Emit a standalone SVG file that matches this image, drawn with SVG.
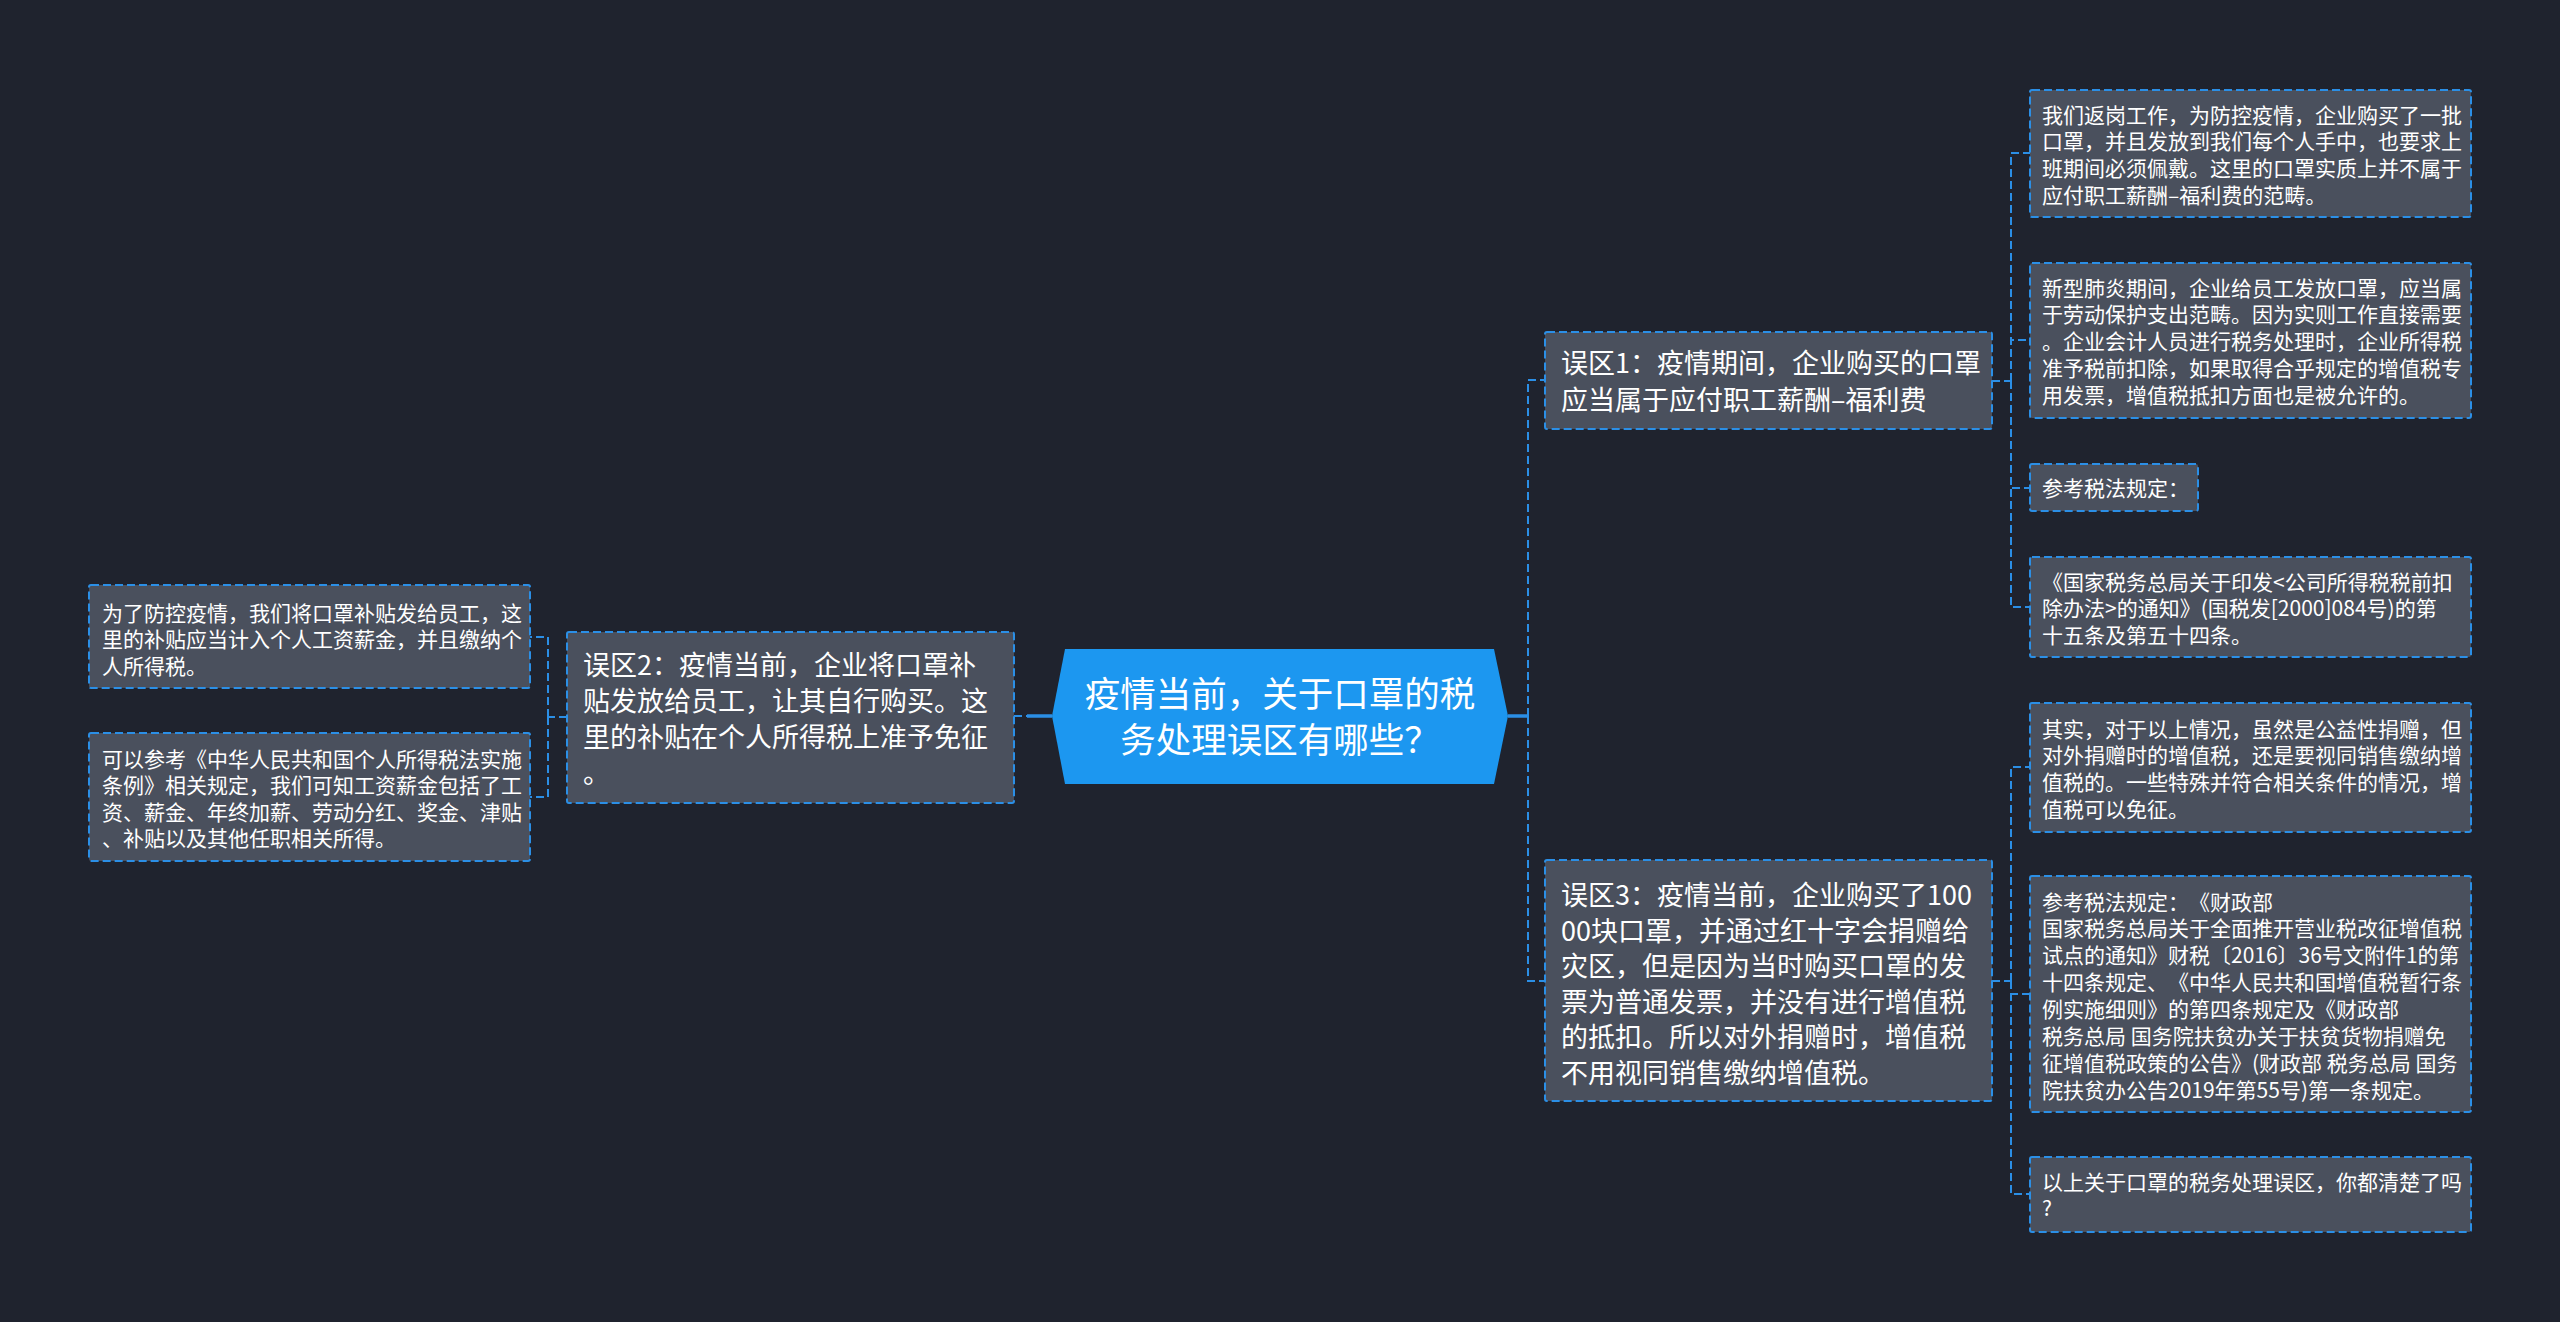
<svg xmlns="http://www.w3.org/2000/svg" width="2560" height="1322" viewBox="0 0 2560 1322">
<style>
.bg{fill:#1f232e}
.box{fill:#4a505d;stroke:#2b8fe6;stroke-width:2;stroke-dasharray:8 4}
.con{fill:none;stroke:#2b8fe6;stroke-width:2;stroke-dasharray:8 4}
.solid{fill:none;stroke:#2b8fe6;stroke-width:3.5}
text{font-family:"Noto Sans CJK SC","Noto Sans",sans-serif;fill:#ffffff;text-spacing-trim:space-all}
.t0{font-size:35.5px}
.t1{font-size:27px}
.t2{font-size:21px}
</style>
<rect class="bg" x="0" y="0" width="2560" height="1322"/>

<g id="connectors">
  <path class="solid" d="M1508 716 H1528"/>
  <path class="solid" d="M1027 716 H1052"/>
  <path class="con" d="M1528 716 V380 H1545 M1528 716 V981 H1545"/>
  <path class="con" d="M1014 716 H1027"/>
  <path class="con" d="M567 717 H548 M548 717 V637 H530 M548 717 V797 H530"/>
  <path class="con" d="M1992 381 H2011 M2011 381 V153 H2030 M2011 381 V340 H2030 M2011 381 V488 H2030 M2011 381 V607 H2030"/>
  <path class="con" d="M1992 981 H2011 M2011 981 V767 H2030 M2011 981 V994 H2030 M2011 981 V1194 H2030"/>
</g>

<g id="root">
  <polygon points="1065,649 1494,649 1508,716 1494,784 1065,784 1052,716" fill="#1c97f0"/>
  <text class="t0" x="1280" y="707" text-anchor="middle">疫情当前，关于口罩的税</text>
  <text class="t0" x="1280" y="753" text-anchor="middle">务处理误区有哪些？</text>
</g>

<g id="n1">
  <rect class="box" x="1545" y="332" width="447" height="97" rx="2"/>
  <text class="t1" x="1561" y="373">误区1：疫情期间，企业购买的口罩</text>
  <text class="t1" x="1561" y="410">应当属于应付职工薪酬–福利费</text>
</g>

<g id="n2">
  <rect class="box" x="567" y="632" width="447" height="171" rx="2"/>
  <text class="t1" x="583" y="675">误区2：疫情当前，企业将口罩补</text>
  <text class="t1" x="583" y="711">贴发放给员工，让其自行购买。这</text>
  <text class="t1" x="583" y="747">里的补贴在个人所得税上准予免征</text>
  <text class="t1" x="583" y="783">。</text>
</g>

<g id="n3">
  <rect class="box" x="1545" y="860" width="447" height="241" rx="2"/>
  <text class="t1" x="1561" y="905">误区3：疫情当前，企业购买了100</text>
  <text class="t1" x="1561" y="940.5">00块口罩，并通过红十字会捐赠给</text>
  <text class="t1" x="1561" y="976">灾区，但是因为当时购买口罩的发</text>
  <text class="t1" x="1561" y="1011.5">票为普通发票，并没有进行增值税</text>
  <text class="t1" x="1561" y="1047">的抵扣。所以对外捐赠时，增值税</text>
  <text class="t1" x="1561" y="1082.5">不用视同销售缴纳增值税。</text>
</g>

<g id="l1">
  <rect class="box" x="89" y="585" width="441" height="103" rx="2"/>
  <text class="t2" x="102" y="620.5">为了防控疫情，我们将口罩补贴发给员工，这</text>
  <text class="t2" x="102" y="647">里的补贴应当计入个人工资薪金，并且缴纳个</text>
  <text class="t2" x="102" y="673.5">人所得税。</text>
</g>

<g id="l2">
  <rect class="box" x="89" y="733" width="441" height="128" rx="2"/>
  <text class="t2" x="102" y="766.5">可以参考《中华人民共和国个人所得税法实施</text>
  <text class="t2" x="102" y="793">条例》相关规定，我们可知工资薪金包括了工</text>
  <text class="t2" x="102" y="819.5">资、薪金、年终加薪、劳动分红、奖金、津贴</text>
  <text class="t2" x="102" y="846">、补贴以及其他任职相关所得。</text>
</g>

<g id="r1">
  <rect class="box" x="2030" y="90" width="441" height="127" rx="2"/>
  <text class="t2" x="2042" y="122.5">我们返岗工作，为防控疫情，企业购买了一批</text>
  <text class="t2" x="2042" y="149.2">口罩，并且发放到我们每个人手中，也要求上</text>
  <text class="t2" x="2042" y="175.9">班期间必须佩戴。这里的口罩实质上并不属于</text>
  <text class="t2" x="2042" y="202.6">应付职工薪酬–福利费的范畴。</text>
</g>

<g id="r2">
  <rect class="box" x="2030" y="263" width="441" height="155" rx="2"/>
  <text class="t2" x="2042" y="295.5">新型肺炎期间，企业给员工发放口罩，应当属</text>
  <text class="t2" x="2042" y="322.3">于劳动保护支出范畴。因为实则工作直接需要</text>
  <text class="t2" x="2042" y="349.1">。企业会计人员进行税务处理时，企业所得税</text>
  <text class="t2" x="2042" y="375.9">准予税前扣除，如果取得合乎规定的增值税专</text>
  <text class="t2" x="2042" y="402.7">用发票，增值税抵扣方面也是被允许的。</text>
</g>

<g id="r3">
  <rect class="box" x="2030" y="464" width="168" height="47" rx="2"/>
  <text class="t2" x="2042" y="495.5">参考税法规定：</text>
</g>

<g id="r4">
  <rect class="box" x="2030" y="557" width="441" height="100" rx="2"/>
  <text class="t2" x="2042" y="589.5">《国家税务总局关于印发&lt;公司所得税税前扣</text>
  <text class="t2" x="2042" y="616.2">除办法&gt;的通知》(国税发[2000]084号)的第</text>
  <text class="t2" x="2042" y="642.9">十五条及第五十四条。</text>
</g>

<g id="r5">
  <rect class="box" x="2030" y="703" width="441" height="129" rx="2"/>
  <text class="t2" x="2042" y="736.5">其实，对于以上情况，虽然是公益性捐赠，但</text>
  <text class="t2" x="2042" y="763.2">对外捐赠时的增值税，还是要视同销售缴纳增</text>
  <text class="t2" x="2042" y="789.9">值税的。一些特殊并符合相关条件的情况，增</text>
  <text class="t2" x="2042" y="816.6">值税可以免征。</text>
</g>

<g id="r6">
  <rect class="box" x="2030" y="876" width="441" height="236" rx="2"/>
  <text class="t2" x="2042" y="909.5">参考税法规定：《财政部</text>
  <text class="t2" x="2042" y="936.4">国家税务总局关于全面推开营业税改征增值税</text>
  <text class="t2" x="2042" y="963.3">试点的通知》财税〔2016〕36号文附件1的第</text>
  <text class="t2" x="2042" y="990.2">十四条规定、《中华人民共和国增值税暂行条</text>
  <text class="t2" x="2042" y="1017.1">例实施细则》的第四条规定及《财政部</text>
  <text class="t2" x="2042" y="1044">税务总局 国务院扶贫办关于扶贫货物捐赠免</text>
  <text class="t2" x="2042" y="1070.9">征增值税政策的公告》(财政部 税务总局 国务</text>
  <text class="t2" x="2042" y="1097.8">院扶贫办公告2019年第55号)第一条规定。</text>
</g>

<g id="r7">
  <rect class="box" x="2030" y="1157" width="441" height="75" rx="2"/>
  <text class="t2" x="2042" y="1189.5">以上关于口罩的税务处理误区，你都清楚了吗</text>
  <text class="t2" x="2042" y="1215.5">?</text>
</g>
</svg>
